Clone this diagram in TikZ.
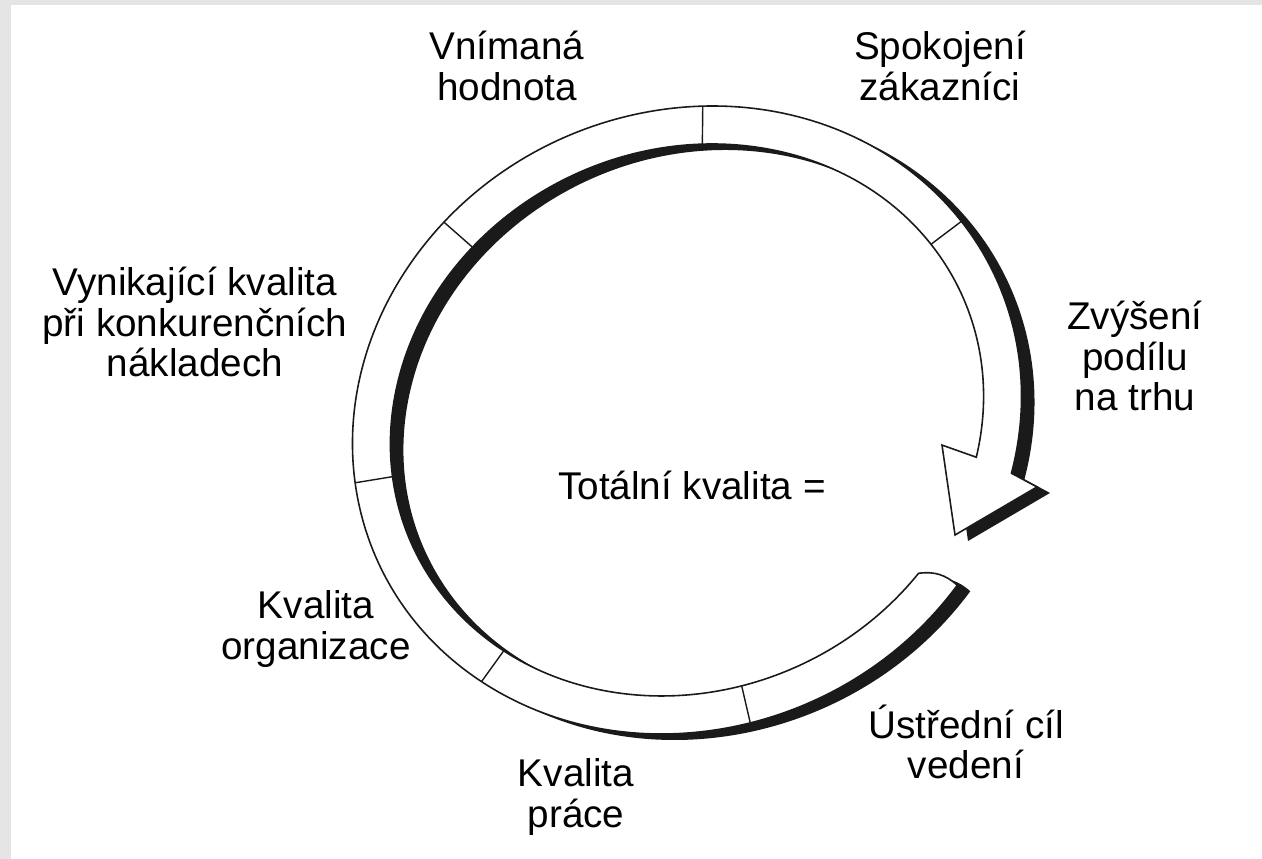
\documentclass[tikz,border=0pt]{standalone}
\usepackage{fontspec}
\setmainfont{Liberation Sans}
\definecolor{scangray}{HTML}{E5E5E5}
\definecolor{ink}{HTML}{1A1A1A}

% outline of the ring band with its arrow head (local, rotated frame)
\newcommand\ringband{(-59:340 and 308) arc[start angle=-59, end angle=-397, x radius=340, y radius=308]
  -- (288.9,-208.6) -- (194.3,-217.5) -- (220.5,-130.5)
  -- (-35.3:302 and 270) arc[start angle=-395.3, end angle=-61.3, x radius=302, y radius=270]
  to[bend left=25] (-59:340 and 308) -- cycle}

\tikzset{
  ringtext/.style={font=\fontsize{22}{23}\selectfont, inner sep=0pt},
  bandface/.style={fill=white, draw=ink, line width=0.9pt},
  seam/.style={draw=ink, line width=0.8pt}
}

\begin{document}
\begin{tikzpicture}[x=0.02cm, y=0.02cm]
\useasboundingbox (0,0) rectangle (1262,859);
\fill[scangray] (0,0) rectangle (1262,859);
\fill[white] (11,0) rectangle (1262,854);

% shadow of the band
\begin{scope}[shift={(700,433)}, rotate=25]
  \fill[ink] \ringband;
\end{scope}

% the band itself
\begin{scope}[shift={(687,439)}, rotate=25]
  \filldraw[bandface] \ringband;
  \draw[seam] (12:302 and 270) -- (12:340 and 308);
  \draw[seam] (64.4:302 and 270) -- (64.4:340 and 308);
  \draw[seam] (113.7:302 and 270) -- (113.7:340 and 308);
  \draw[seam] (164.3:302 and 270) -- (164.3:340 and 308);
  \draw[seam] (209.2:302 and 270) -- (209.2:340 and 308);
  \draw[seam] (258:302 and 270) -- (258:340 and 308);
\end{scope}

\node[ringtext] (total) at (692,374) {Totální kvalita =};
\node[ringtext] (perceived) at (507,787) {\begin{tabular}{c} Vnímaná \\ hodnota \end{tabular}};
\node[ringtext] (customers) at (940,787) {\begin{tabular}{c} Spokojení \\ zákazníci \end{tabular}};
\node[ringtext] (share) at (1135,497) {\begin{tabular}{c} Zvýšení \\ podílu \\ na trhu \end{tabular}};
\node[ringtext] (excellence) at (195,531) {\begin{tabular}{c} Vynikající kvalita \\ při konkurenčních \\ nákladech \end{tabular}};
\node[ringtext] (organisation) at (316,228) {\begin{tabular}{c} Kvalita \\ organizace \end{tabular}};
\node[ringtext] (work) at (576,60) {\begin{tabular}{c} Kvalita \\ práce \end{tabular}};
\node[ringtext] (goal) at (966,111) {\begin{tabular}{c} Ústřední cíl \\ vedení \end{tabular}};
\end{tikzpicture}
\end{document}
